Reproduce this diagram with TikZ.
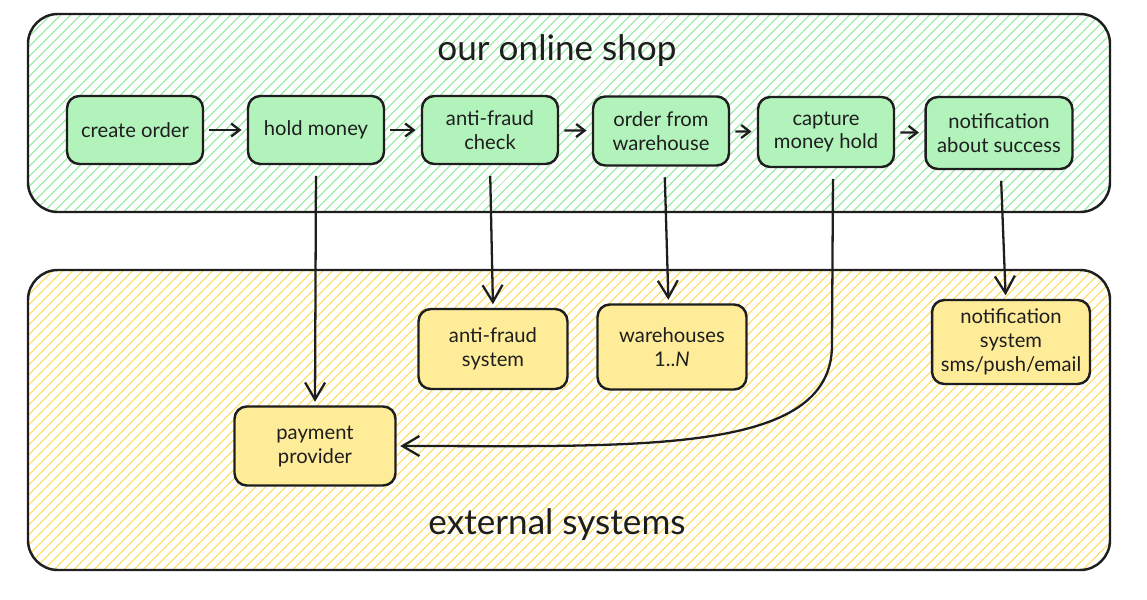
\documentclass[tikz,border=0pt]{standalone}
\usepackage{fontspec}
\setmainfont{Lato}
\usepackage{tikz}
\usetikzlibrary{arrows.meta,patterns.meta}

\definecolor{ink}{HTML}{1E1E1E}
\definecolor{shopfill}{HTML}{B2F2BB}
\definecolor{extfill}{HTML}{FFEC99}
\definecolor{shophatch}{HTML}{A6EEB0}
\definecolor{exthatch}{HTML}{FFE27A}

\tikzset{
    area/.style={draw=ink,line width=1.4pt,rounded corners=17pt,
        pattern={Lines[angle=45,distance=4pt,line width=0.8pt]}},
    areatitle/.style={font=\fontsize{20}{24}\selectfont,text=ink},
    shopbox/.style={draw=ink,fill=shopfill,line width=1.4pt,rounded corners=7pt,
        align=center,font=\fontsize{11.5}{13.6}\selectfont,text=ink,
        minimum width=2.72cm,minimum height=1.36cm,inner sep=1pt},
    extbox/.style={shopbox,fill=extfill},
    smallarr/.style={draw=ink,line width=1.3pt,
        -{Straight Barb[length=1.7mm,width=2.6mm]},shorten <=3pt,shorten >=3pt},
    bigarr/.style={draw=ink,line width=1.3pt,
        -{Straight Barb[length=3.4mm,width=4mm]},shorten <=6pt,shorten >=2pt},
}

\begin{document}
\begin{tikzpicture}[x=0.02cm,y=-0.02cm]
        \useasboundingbox (0,0) rectangle (1147,599);
        % the two areas, hatched
        \draw[area,pattern color=shophatch] (28,14) rectangle (1110,212);
        \draw[area,pattern color=exthatch] (28,270) rectangle (1110,570);
        \node[areatitle] (shop) at (557,51) {our online shop};
        \node[areatitle] (ext) at (557,525) {external systems};

        % steps of the order
        \node[shopbox] (create) at (135,130) {create order};
        \node[shopbox] (hold) at (316,130) {hold money};
        \node[shopbox] (check) at (490,130) {anti-fraud\\check};
        \node[shopbox,minimum height=1.38cm] (order) at (661,131) {order from\\warehouse};
        \node[shopbox,minimum height=1.4cm] (capture) at (826,132) {capture\\money hold};
        \node[shopbox,minimum width=2.94cm,minimum height=1.44cm] (notify) at (999,133) {notification\\about success};

        % outside systems
        \node[extbox,minimum width=2.98cm,minimum height=1.6cm] (fraud) at (493,349) {anti-fraud\\system};
        \node[extbox,minimum width=2.98cm,minimum height=1.7cm] (houses) at (672,347) {warehouses\\1..\textit{N}};
        \node[extbox,minimum width=3.16cm,minimum height=1.68cm] (notifsys) at (1011,342) {notification\\system\\sms/push/email};
        \node[extbox,minimum width=3.22cm,minimum height=1.58cm] (provider) at (315,446) {payment\\provider};

        % flow inside the shop
        \draw[smallarr] (create) -- (hold);
        \draw[smallarr] (hold) -- (check);
        \draw[smallarr] (check) -- (order);
        \draw[smallarr] (order) -- (capture);
        \draw[smallarr] (capture) -- (notify);

        % calls to the outside
        \draw[bigarr] (hold.south) -- (provider.north);
        \draw[bigarr] (check.south) -- (fraud.north);
        \draw[bigarr] ([xshift=2pt]order.south) -- ([xshift=-2pt]houses.north);
        \draw[bigarr] ([xshift=1pt]notify.south) -- ([xshift=-3pt]notifsys.north);
        \coordinate (bend) at (832,345);
        \draw[bigarr] ([xshift=4pt]capture.south) -- (bend)
            .. controls (832,455) and (640,446) .. (provider.east);
    \end{tikzpicture}
\end{document}
